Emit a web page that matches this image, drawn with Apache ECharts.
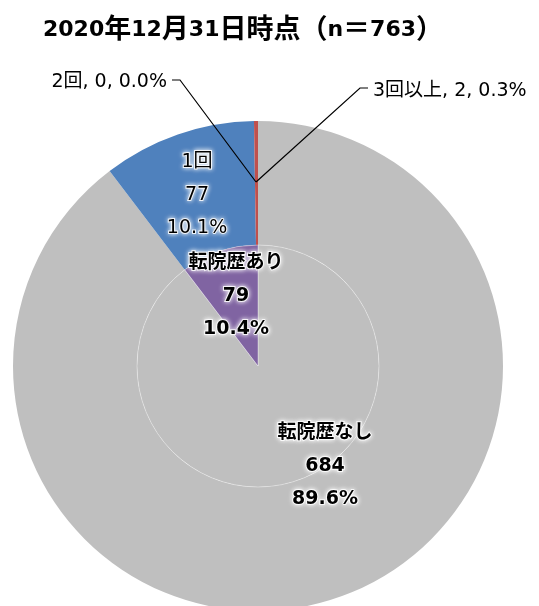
<!DOCTYPE html>
<html><head><meta charset="utf-8">
<script src="https://cdn.jsdelivr.net/npm/echarts@6/dist/echarts.min.js"></script>
<style>html,body{margin:0;padding:0;background:#fff}#c{width:539px;height:606px}</style>
</head><body><div id="c"></div>
<script>
const titleText = '2020年12月31日時点（n＝763）';
const innerNames = ['転院歴なし', '転院歴あり'];
const innerValues = [684, 79];
const outerNames = ['転院歴なし', '1回', '2回', '3回以上'];
const outerValues = [684, 77, 0, 2];

const innerColors = ['#BFBFBF', '#8064A2'];
const outerColors = ['#BFBFBF', '#4F81BD', '#8064A2', '#C0504D'];
const FONT = "'DejaVu Sans', 'Noto Sans CJK JP', sans-serif";
const CX = 258, CY = 366, R0 = 121, R1 = 245;
const glow = { textBorderColor: 'rgba(255,255,255,0.85)', textBorderWidth: 2, textShadowColor: '#fff', textShadowBlur: 5 };
const pct = p => p.percent.toFixed(1) + '%';
const richTitle = s => s.replace(/([^\x00-\x7f]+)/g, '{j|$1}');

const chart = echarts.init(document.getElementById('c'), null, { renderer: 'canvas' });
chart.setOption({
  animation: false,
  backgroundColor: '#fff',
  title: {
    text: richTitle(titleText), left: 43, top: 17, padding: 0,
    textStyle: {
      fontFamily: FONT, fontSize: 22, fontWeight: 'bold', color: '#000',
      rich: { j: { fontFamily: FONT, fontSize: 27, fontWeight: 'bold', color: '#000' } }
    }
  },
  series: [
    {
      type: 'pie', center: [CX, CY], radius: [R0, R1], startAngle: 90, clockwise: true,
      silent: true, percentPrecision: 1, z: 2,
      itemStyle: { borderWidth: 0 },
      data: outerNames.map((n, i) => ({
        name: n, value: outerValues[i],
        itemStyle: { color: outerColors[i] },
        label: i === 1 ? { show: true, position: 'inside', formatter: p => p.name + '\n' + p.value + '\n' + pct(p), fontSize: 19, lineHeight: 33, color: '#000', fontFamily: FONT, ...glow } : { show: false },
        labelLine: { show: false }
      })),
      labelLayout: function (p) {
        if (p.dataIndex === 1) return { x: 197, y: 195, align: 'center', verticalAlign: 'middle' };
        return {};
      }
    },
    {
      type: 'pie', center: [CX, CY], radius: [R0, R1], startAngle: 90, clockwise: true,
      silent: true, percentPrecision: 1, z: 5,
      itemStyle: { color: 'rgba(0,0,0,0)', borderWidth: 0 },
      data: outerNames.map((n, i) => ({
        name: n, value: outerValues[i],
        label: i >= 2 ? { show: true, position: 'outside', overflow: 'none', formatter: p => p.name + ', ' + p.value + ', ' + pct(p), fontSize: 19, color: '#000', fontFamily: FONT } : { show: false },
        labelLine: { show: i >= 2, lineStyle: { color: '#000', width: 1.2 } }
      })),
      labelLayout: function (p) {
        const anchor = [CX - 2, CY - 184];
        if (p.dataIndex === 2) return { x: 167, y: 82, align: 'right', verticalAlign: 'middle',
          labelLinePoints: [anchor, [180, 80], [172, 80]] };
        if (p.dataIndex === 3) return { x: 373, y: 91, align: 'left', verticalAlign: 'middle',
          labelLinePoints: [anchor, [360, 88], [368, 88]] };
        return {};
      }
    },
    {
      type: 'pie', center: [CX, CY], radius: [0, R0], startAngle: 90, clockwise: true,
      silent: true, percentPrecision: 1, z: 3,
      itemStyle: { borderColor: 'rgba(255,255,255,0.6)', borderWidth: 0.6 },
      label: { show: true, position: 'inside', fontFamily: FONT, fontSize: 19, fontWeight: 'bold', lineHeight: 33, color: '#000',
        formatter: p => p.name + '\n' + p.value + '\n' + pct(p), ...glow },
      labelLine: { show: false },
      data: innerNames.map((n, i) => ({ name: n, value: innerValues[i], itemStyle: { color: innerColors[i] } })),
      labelLayout: function (p) {
        if (p.dataIndex === 1) return { x: 236, y: 296, align: 'center', verticalAlign: 'middle' };
        return { x: 325, y: 466, align: 'center', verticalAlign: 'middle' };
      }
    }
  ]
});
</script></body></html>
